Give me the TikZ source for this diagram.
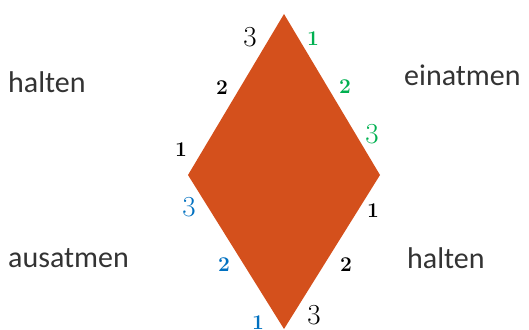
\documentclass[tikz,border=0pt]{standalone}
\usepackage{fontspec}
\newfontfamily\wordfont{Carlito}
\usetikzlibrary{positioning}
\definecolor{rhomb}{HTML}{D4501C}
\definecolor{ingreen}{HTML}{00B050}
\definecolor{exblue}{HTML}{0070C0}

\begin{document}
\begin{tikzpicture}[
        x=1pt, y=-1pt,
        word/.style={anchor=west, inner sep=0pt, font=\wordfont\fontsize{30}{30}\selectfont, text=black!80},
        small/.style={inner sep=0pt, font=\bfseries\fontsize{21}{21}\selectfont},
        big/.style={inner sep=0pt, font=\fontsize{29}{29}\selectfont}
    ]
        \useasboundingbox (0,0) rectangle (529,329);

        \coordinate (top)    at (284, 14);
        \coordinate (right)  at (380,175);
        \coordinate (bottom) at (284,329);
        \coordinate (left)   at (188,175);
        \fill[rhomb] (top) -- (right) -- (bottom) -- (left) -- cycle;

        % phases
        \node[word] (hold1) at (  8, 82) {halten};
        \node[word] (inhale) at (404, 75) {einatmen};
        \node[word] (exhale) at (  8,258) {ausatmen};
        \node[word] (hold2) at (407,258) {halten};

        % counting, upper left edge
        \node[small] (ul1) at (181,150) {1};
        \node[small] (ul2) at (222, 88) {2};
        \node[big]   (ul3) at (250, 37) {3};

        % counting, upper right edge
        \node[small, text=ingreen] (ur1) at (313, 39) {1};
        \node[small, text=ingreen] (ur2) at (345, 87) {2};
        \node[big,   text=ingreen] (ur3) at (372,134) {3};

        % counting, lower right edge
        \node[small] (lr1) at (373,211) {1};
        \node[small] (lr2) at (346,265) {2};
        \node[big]   (lr3) at (314,315) {3};

        % counting, lower left edge
        \node[small, text=exblue] (ll1) at (258,323) {1};
        \node[small, text=exblue] (ll2) at (224,265) {2};
        \node[big,   text=exblue] (ll3) at (189,207) {3};
    \end{tikzpicture}
\end{document}
